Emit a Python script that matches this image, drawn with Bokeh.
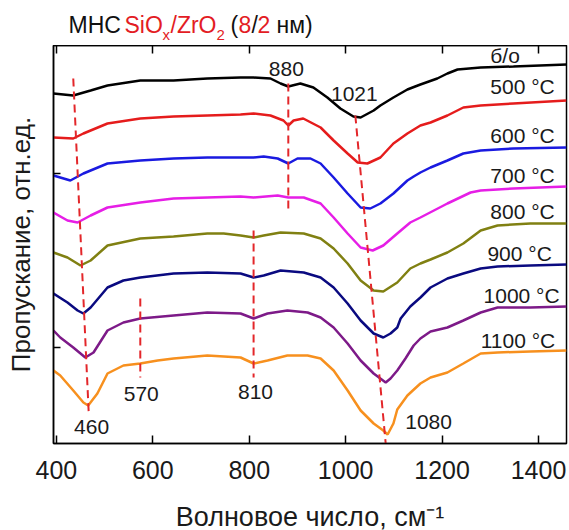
from bokeh.plotting import figure
from bokeh.models import ColumnDataSource, LinearAxis, FixedTicker, Range1d
from bokeh.layouts import column
from bokeh.embed import file_html
from bokeh.resources import INLINE
from bokeh.core.properties import value

# ---------------- data (wavenumber, cm^-1 ; transmission, arb. units) ----------------
wn_bo = [394, 435, 471, 506, 574, 643, 713, 782, 809, 844, 865, 881, 906, 933, 962, 989, 1016, 1031, 1058, 1072, 1099, 1128, 1155, 1190, 1211, 1232, 1280, 1348, 1458]
t_bo = [350, 348, 353, 358, 363, 363, 365, 366, 366, 365, 360, 357, 360, 356, 346, 335, 327, 326, 333, 338, 346, 354, 359, 365, 370, 374, 376, 377, 379]

wn_500 = [394, 435, 456, 506, 574, 643, 713, 782, 809, 844, 871, 881, 892, 912, 948, 975, 1004, 1025, 1045, 1072, 1099, 1128, 1155, 1176, 1211, 1244, 1280, 1348, 1458]
t_500 = [306, 305, 310, 320, 325, 327, 328, 329, 330, 328, 323, 318, 323, 325, 316, 303, 290, 281, 280, 286, 300, 310, 318, 321, 328, 336, 338, 340, 343]

wn_600 = [394, 408, 429, 456, 506, 574, 643, 713, 782, 809, 830, 859, 881, 900, 927, 948, 975, 1004, 1031, 1051, 1072, 1099, 1128, 1141, 1155, 1176, 1211, 1244, 1280, 1348, 1458]
t_600 = [268, 266, 263, 270, 280, 283, 285, 286, 286, 286, 287, 285, 280, 285, 285, 280, 266, 250, 236, 235, 240, 250, 263, 267, 271, 276, 283, 290, 293, 295, 296]

wn_700 = [394, 423, 444, 471, 506, 574, 643, 713, 782, 809, 859, 881, 913, 948, 975, 1004, 1031, 1056, 1078, 1107, 1134, 1155, 1211, 1259, 1280, 1348, 1458]
t_700 = [231, 223, 221, 228, 236, 241, 245, 246, 247, 246, 248, 246, 246, 240, 226, 210, 196, 193, 198, 210, 221, 226, 240, 251, 253, 255, 257]

wn_800 = [394, 423, 450, 471, 506, 574, 643, 713, 747, 782, 809, 830, 865, 913, 948, 975, 1004, 1031, 1058, 1078, 1107, 1134, 1155, 1176, 1211, 1244, 1280, 1315, 1383, 1458]
t_800 = [191, 186, 178, 183, 198, 205, 207, 210, 210, 208, 206, 208, 211, 210, 205, 195, 180, 163, 153, 152, 161, 175, 180, 184, 191, 200, 213, 218, 220, 220]

wn_900 = [394, 423, 444, 456, 471, 506, 539, 574, 643, 713, 782, 809, 830, 865, 913, 948, 975, 1004, 1031, 1058, 1078, 1093, 1107, 1114, 1134, 1155, 1176, 1211, 1244, 1280, 1315, 1383, 1458]
t_900 = [150, 141, 133, 130, 136, 156, 163, 166, 170, 171, 170, 166, 168, 173, 171, 166, 156, 140, 123, 110, 106, 110, 116, 125, 137, 146, 156, 165, 170, 175, 177, 178, 179]

wn_1000 = [394, 408, 435, 460, 477, 506, 539, 574, 643, 713, 782, 809, 838, 879, 921, 948, 975, 1004, 1031, 1058, 1083, 1093, 1107, 1124, 1141, 1155, 1176, 1211, 1244, 1280, 1315, 1383, 1458]
t_1000 = [113, 106, 96, 86, 91, 113, 121, 125, 128, 131, 130, 125, 130, 133, 131, 126, 116, 100, 83, 70, 61, 65, 73, 85, 98, 105, 112, 116, 123, 131, 136, 136, 137]

wn_1100 = [394, 408, 435, 456, 466, 485, 506, 539, 574, 610, 643, 713, 782, 809, 838, 879, 921, 948, 975, 1004, 1031, 1058, 1078, 1087, 1099, 1107, 1128, 1155, 1176, 1211, 1244, 1280, 1315, 1383, 1458]
t_1100 = [73, 68, 53, 41, 38, 50, 70, 78, 80, 83, 85, 88, 86, 80, 83, 88, 88, 85, 73, 53, 33, 20, 13, 9, 20, 34, 48, 60, 66, 71, 80, 90, 91, 92, 93]

series_labels = ["б/о", "500 °C", "600 °C", "700 °C", "800 °C", "900 °C", "1000 °C", "1100 °C"]
series_wn = [wn_bo, wn_500, wn_600, wn_700, wn_800, wn_900, wn_1000, wn_1100]
series_t = [t_bo, t_500, t_600, t_700, t_800, t_900, t_1000, t_1100]

# peak guide lines (start / end points) and their labels
guide_x0 = [435, 574, 809, 881, 1020]
guide_y0 = [365, 145, 213, 360, 328]
guide_x1 = [467, 574, 809, 881, 1083]
guide_y1 = [31, 66, 66, 233, 0]
peak_labels = ["460", "570", "810", "880", "1021", "1080"]

x_ticks = [400, 600, 800, 1000, 1200, 1400]
y_ticks = [96, 270]

title_texts = ["МНС", "SiO", "x", "/ZrO", "2", "(", "8", "/", "2", "нм)"]
x_title = "Волновое число, см⁻¹"
y_title = "Пропускание, отн.ед."

# ---------------- layout / style ----------------
colors = ["#000000", "#e51c1c", "#1a1ae0", "#e61ee6", "#808012", "#0a0a80", "#7d1a88", "#f7901e"]
label_x = [1300, 1300, 1300, 1300, 1300, 1294, 1286, 1280]
label_y = [388, 357, 308, 268, 232, 190, 148, 103]
peak_lx = [473, 576, 813, 877, 1018, 1172]
peak_ly = [17, 50, 52, 375, 350, 22]

RED = "#e31c24"
title_x = [68, 124, 162, 170, 216, 230, 238, 251, 257, 276]   # page px
title_y = [24, 24, 34, 24, 34, 24, 24, 24, 24, 24]            # page px (middle)
title_c = ["#111111", RED, RED, RED, RED, "#111111", RED, "#111111", RED, "#111111"]
title_fs = ["23px", "23px", "15px", "23px", "15px", "23px", "23px", "23px", "23px", "23px"]

FONT = "Liberation Sans"
ML, MR = 53, 3

# ---- title strip (page pixel coordinates) ----
tf = figure(width=569, height=45, output_backend="svg", toolbar_location=None,
            x_range=Range1d(ML, 569 - MR), y_range=Range1d(45, 0),
            x_axis_type=None, y_axis_type=None,
            min_border_left=ML, min_border_right=MR, min_border_top=0, min_border_bottom=0)
tf.outline_line_color = None
tf.xgrid.visible = False
tf.ygrid.visible = False
tsrc = ColumnDataSource(dict(x=title_x, y=title_y, text=title_texts, c=title_c, fs=title_fs))
tf.text(x="x", y="y", text="text", source=tsrc, text_color="c", text_font_size="fs",
        text_font=value(FONT), text_align="left", text_baseline="middle")

# ---- main plot ----
p = figure(width=569, height=445, output_backend="svg", toolbar_location=None,
           x_range=Range1d(394, 1458), y_range=Range1d(0, 398),
           min_border_left=ML, min_border_right=MR, min_border_top=0, min_border_bottom=47)
p.background_fill_color = "white"
p.border_fill_color = "white"
p.outline_line_color = "black"
p.outline_line_width = 1.5
p.xgrid.visible = False
p.ygrid.visible = False

for wn, t, c in zip(series_wn, series_t, colors):
    p.line(wn, t, line_color=c, line_width=2.5)

p.segment(x0=guide_x0, y0=guide_y0, x1=guide_x1, y1=guide_y1,
          line_color="#e3262a", line_width=2, line_dash="8 5")

src_lab = ColumnDataSource(dict(x=label_x, y=label_y, text=series_labels))
p.text(x="x", y="y", text="text", source=src_lab, text_font=value(FONT),
       text_font_size="21px", text_color="#1a1a1a", text_align="left", text_baseline="middle")

src_pk = ColumnDataSource(dict(x=peak_lx, y=peak_ly, text=peak_labels))
p.text(x="x", y="y", text="text", source=src_pk, text_font=value(FONT),
       text_font_size="21px", text_color="#1a1a1a", text_align="center", text_baseline="middle")

# axes
xa = p.xaxis[0]
xa.ticker = FixedTicker(ticks=x_ticks)
xa.major_tick_in = 8
xa.major_tick_out = 0
xa.minor_tick_line_color = None
xa.axis_line_width = 1.5
xa.major_tick_line_width = 1.5
xa.major_label_text_font = FONT
xa.major_label_text_font_size = "25px"
xa.major_label_text_color = "#1a1a1a"
xa.major_label_standoff = 17

ya = p.yaxis[0]
ya.ticker = FixedTicker(ticks=y_ticks)
ya.major_tick_in = 7
ya.major_tick_out = 0
ya.minor_tick_line_color = None
ya.axis_line_width = 1.5
ya.major_tick_line_width = 1.5
ya.major_label_text_font_size = "0px"
ya.major_label_text_color = None
ya.major_label_standoff = 0
ya.axis_label = y_title
ya.axis_label_text_font = FONT
ya.axis_label_text_font_size = "26px"
ya.axis_label_text_font_style = "normal"
ya.axis_label_text_color = "#1a1a1a"
ya.axis_label_standoff = 18

top = LinearAxis(ticker=FixedTicker(ticks=x_ticks), major_label_text_font_size="0px",
                 major_label_text_color=None,
                 major_tick_in=8, major_tick_out=0, minor_tick_line_color=None,
                 axis_line_width=1.5, major_tick_line_width=1.5, major_label_standoff=0)
p.add_layout(top, "above")

# ---- x-axis title strip (page px x, strip-local y from top) ----
bf = figure(width=569, height=40, output_backend="svg", toolbar_location=None,
            x_range=Range1d(ML, 569 - MR), y_range=Range1d(40, 0),
            x_axis_type=None, y_axis_type=None,
            min_border_left=ML, min_border_right=MR, min_border_top=0, min_border_bottom=0)
bf.outline_line_color = None
bf.xgrid.visible = False
bf.ygrid.visible = False
bf.text(x=[(ML + 569 - MR) / 2], y=[26], text=[x_title], text_font=value(FONT),
        text_font_size="27px", text_color="#1a1a1a", text_align="center", text_baseline="middle")

layout = column(tf, p, bf, spacing=0)
open("out.html", "w").write(file_html(layout, INLINE))
